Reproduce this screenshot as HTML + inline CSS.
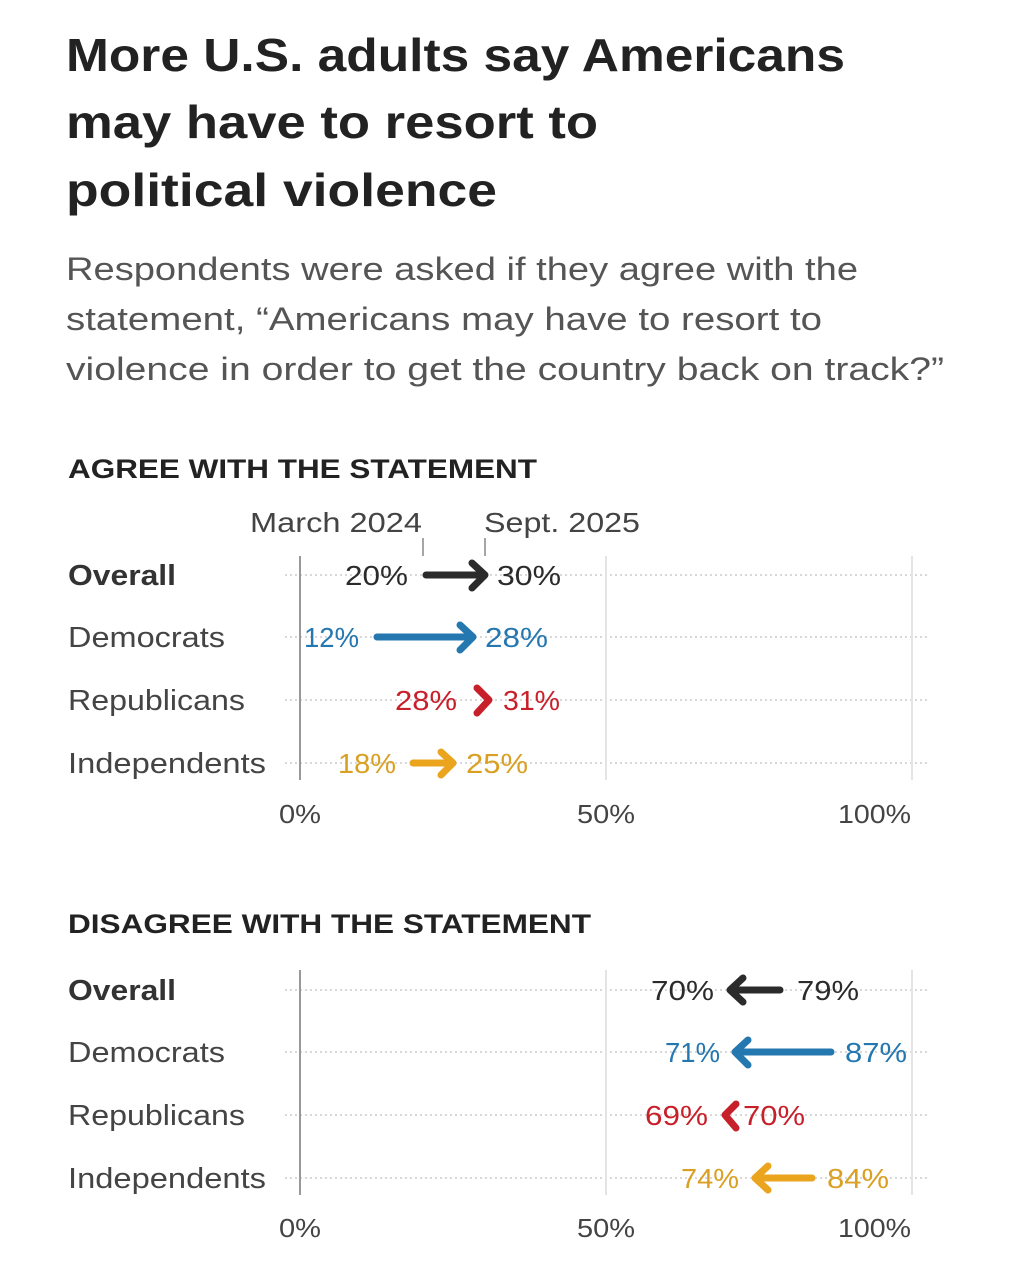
<!DOCTYPE html>
<html><head><meta charset="utf-8"><style>
body{margin:0;background:#fff;width:1022px;height:1280px;overflow:hidden;font-family:"Liberation Sans",sans-serif}
</style></head><body>
<svg width="1022" height="1280" xmlns="http://www.w3.org/2000/svg" font-family="Liberation Sans, sans-serif">
<g font-weight="bold" font-size="46" fill="#222" lengthAdjust="spacingAndGlyphs">
<text x="66" y="71" textLength="779" lengthAdjust="spacingAndGlyphs">More U.S. adults say Americans</text>
<text x="66" y="138" textLength="532" lengthAdjust="spacingAndGlyphs">may have to resort to</text>
<text x="66" y="206" textLength="431" lengthAdjust="spacingAndGlyphs">political violence</text>
</g>
<g font-size="32" fill="#555">
<text x="66" y="280" textLength="792" lengthAdjust="spacingAndGlyphs">Respondents were asked if they agree with the</text>
<text x="66" y="330" textLength="756" lengthAdjust="spacingAndGlyphs">statement, “Americans may have to resort to</text>
<text x="66" y="380" textLength="878" lengthAdjust="spacingAndGlyphs">violence in order to get the country back on track?”</text>
</g>
<g font-size="27" fill="#222" font-weight="bold">
<text x="68" y="478" textLength="469" lengthAdjust="spacingAndGlyphs">AGREE WITH THE STATEMENT</text>
<text x="68" y="933" textLength="523" lengthAdjust="spacingAndGlyphs">DISAGREE WITH THE STATEMENT</text>
</g>
<g font-size="28" fill="#444">
<text x="250" y="532" textLength="172" lengthAdjust="spacingAndGlyphs">March 2024</text>
<text x="484" y="532" textLength="156" lengthAdjust="spacingAndGlyphs">Sept. 2025</text>
</g>
<line x1="423" y1="538" x2="423" y2="556" stroke="#888" stroke-width="1.5"/>
<line x1="485" y1="538" x2="485" y2="556" stroke="#888" stroke-width="1.5"/>

<g stroke="#ccc" stroke-width="1.5" stroke-dasharray="2,3">
<line x1="285" y1="575" x2="928" y2="575"/><line x1="285" y1="637" x2="928" y2="637"/>
<line x1="285" y1="700" x2="928" y2="700"/><line x1="285" y1="763" x2="928" y2="763"/>
<line x1="285" y1="990" x2="928" y2="990"/><line x1="285" y1="1052" x2="928" y2="1052"/>
<line x1="285" y1="1115" x2="928" y2="1115"/><line x1="285" y1="1178" x2="928" y2="1178"/>
</g>
<g stroke-width="2">
<line x1="300" y1="556" x2="300" y2="780" stroke="#999"/>
<line x1="606" y1="556" x2="606" y2="780" stroke="#e4e4e4"/>
<line x1="912" y1="556" x2="912" y2="780" stroke="#e4e4e4"/>
<line x1="300" y1="970" x2="300" y2="1195" stroke="#999"/>
<line x1="606" y1="970" x2="606" y2="1195" stroke="#e4e4e4"/>
<line x1="912" y1="970" x2="912" y2="1195" stroke="#e4e4e4"/>
</g>

<g font-size="29" fill="#444">
<text x="68" y="585" font-weight="bold" fill="#333" textLength="108" lengthAdjust="spacingAndGlyphs">Overall</text>
<text x="68" y="647" textLength="157" lengthAdjust="spacingAndGlyphs">Democrats</text>
<text x="68" y="710" textLength="177" lengthAdjust="spacingAndGlyphs">Republicans</text>
<text x="68" y="773" textLength="198" lengthAdjust="spacingAndGlyphs">Independents</text>
<text x="68" y="1000" font-weight="bold" fill="#333" textLength="108" lengthAdjust="spacingAndGlyphs">Overall</text>
<text x="68" y="1062" textLength="157" lengthAdjust="spacingAndGlyphs">Democrats</text>
<text x="68" y="1125" textLength="177" lengthAdjust="spacingAndGlyphs">Republicans</text>
<text x="68" y="1188" textLength="198" lengthAdjust="spacingAndGlyphs">Independents</text>
</g>
<g font-size="26" fill="#444">
<text x="279" y="823" textLength="42" lengthAdjust="spacingAndGlyphs">0%</text><text x="577" y="823" textLength="58" lengthAdjust="spacingAndGlyphs">50%</text><text x="838" y="823" textLength="73" lengthAdjust="spacingAndGlyphs">100%</text>
<text x="279" y="1237" textLength="42" lengthAdjust="spacingAndGlyphs">0%</text><text x="577" y="1237" textLength="58" lengthAdjust="spacingAndGlyphs">50%</text><text x="838" y="1237" textLength="73" lengthAdjust="spacingAndGlyphs">100%</text>
</g>

<g fill="none" stroke-width="7" stroke-linecap="round" stroke-linejoin="round">
<path d="M426 575H484M472 563L485 575L472 588" stroke="#2b2b2b"/>
<path d="M377 637H472M460 625L473 637L460 650" stroke="#2577b0"/>
<path d="M477 688L489 700L477 713" stroke="#c8202a"/>
<path d="M413 763H452M441 752L453 763L441 775" stroke="#eba41d"/>
<path d="M780 990H731M743 978L730 990L743 1002" stroke="#2b2b2b"/>
<path d="M831 1052H736M748 1040L735 1052L748 1065" stroke="#2577b0"/>
<path d="M736 1104L725 1115L736 1128" stroke="#c8202a"/>
<path d="M812 1178H756M768 1166L755 1178L768 1190" stroke="#eba41d"/>
</g>

<g font-size="28">
<text x="345" y="585" fill="#2b2b2b" textLength="63" lengthAdjust="spacingAndGlyphs">20%</text>
<text x="497" y="585" fill="#2b2b2b" textLength="64" lengthAdjust="spacingAndGlyphs">30%</text>
<text x="304" y="647" fill="#2577b0" textLength="55" lengthAdjust="spacingAndGlyphs">12%</text>
<text x="485" y="647" fill="#2577b0" textLength="63" lengthAdjust="spacingAndGlyphs">28%</text>
<text x="395" y="710" fill="#c8202a" textLength="62" lengthAdjust="spacingAndGlyphs">28%</text>
<text x="503" y="710" fill="#c8202a" textLength="57" lengthAdjust="spacingAndGlyphs">31%</text>
<text x="338" y="773" fill="#d9a024" textLength="58" lengthAdjust="spacingAndGlyphs">18%</text>
<text x="466" y="773" fill="#d9a024" textLength="62" lengthAdjust="spacingAndGlyphs">25%</text>
<text x="651" y="1000" fill="#2b2b2b" textLength="63" lengthAdjust="spacingAndGlyphs">70%</text>
<text x="797" y="1000" fill="#2b2b2b" textLength="62" lengthAdjust="spacingAndGlyphs">79%</text>
<text x="665" y="1062" fill="#2577b0" textLength="55" lengthAdjust="spacingAndGlyphs">71%</text>
<text x="845" y="1062" fill="#2577b0" textLength="62" lengthAdjust="spacingAndGlyphs">87%</text>
<text x="645" y="1125" fill="#c8202a" textLength="63" lengthAdjust="spacingAndGlyphs">69%</text>
<text x="743" y="1125" fill="#c8202a" textLength="62" lengthAdjust="spacingAndGlyphs">70%</text>
<text x="681" y="1188" fill="#d9a024" textLength="58" lengthAdjust="spacingAndGlyphs">74%</text>
<text x="827" y="1188" fill="#d9a024" textLength="62" lengthAdjust="spacingAndGlyphs">84%</text>
</g>
</svg>
</body></html>
